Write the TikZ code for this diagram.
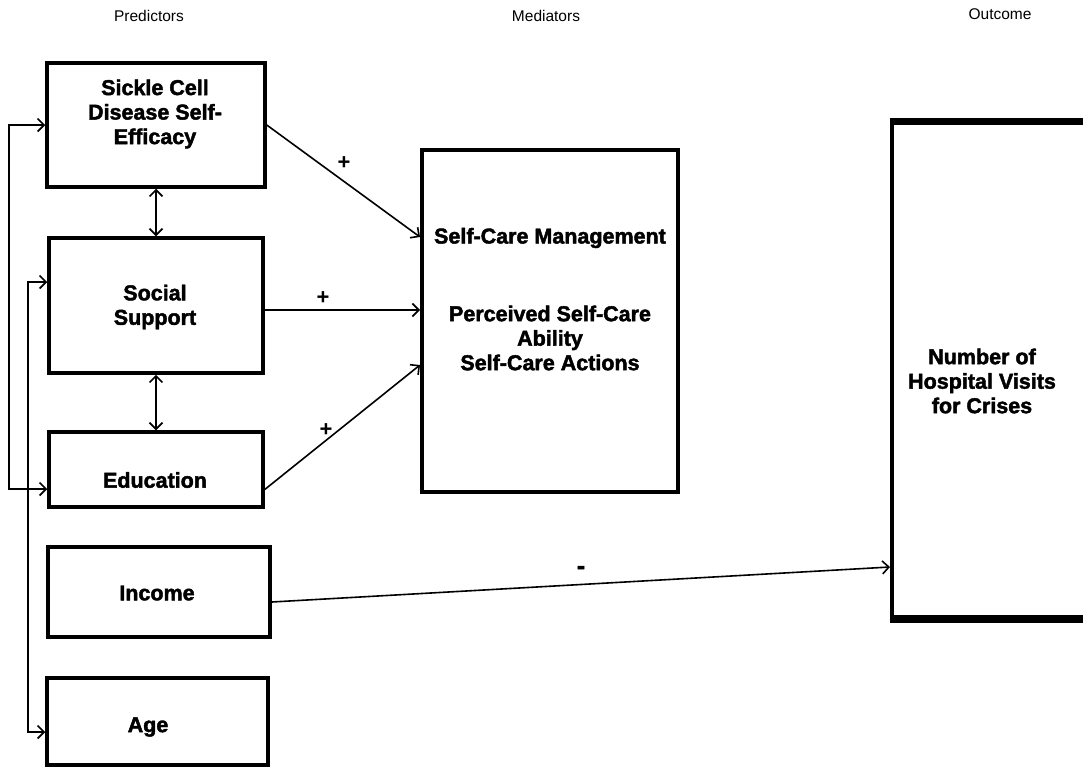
\documentclass[tikz,border=0pt]{standalone}
\usepackage{fontspec}
\setmainfont{Liberation Sans}
\newfontfamily\heavyfont[FakeBold=2]{Liberation Sans Bold}
\usetikzlibrary{arrows.meta,calc}
\begin{document}
\begin{tikzpicture}[x=1pt,y=-1pt,
  box/.style={draw, line width=3.5pt, inner sep=0pt, fill=none},
  btxt/.style={font=\fontsize{21.5}{24.5}\heavyfont, align=center, inner sep=0pt},
  head/.style={font=\fontsize{15.5}{18}\selectfont, inner sep=0pt},
  sign/.style={font=\fontsize{22}{26}\bfseries, inner sep=0pt},
  arr/.style={line width=1.6pt, -{Straight Barb[length=6.5pt,width=13pt]}},
  darr/.style={line width=1.6pt, {Straight Barb[length=6.5pt,width=13pt]}-{Straight Barb[length=6.5pt,width=13pt]}}]
\useasboundingbox (0,0) rectangle (1083,768);
% headers
\node[head] (hp) at (149,16) {Predictors};
\node[head] (hm) at (546,16) {Mediators};
\node[head] (ho) at (1000,14) {Outcome};
% predictor boxes
\node[box, minimum width=218pt, minimum height=124pt] (scd) at (156,125) {};
\node[box, minimum width=214pt, minimum height=135pt] (soc) at (156,305.5) {};
\node[box, minimum width=214pt, minimum height=75pt] (edu) at (156,469.5) {};
\node[box, minimum width=222pt, minimum height=90pt] (inc) at (159,592) {};
\node[box, minimum width=221pt, minimum height=87pt] (age) at (157.5,721.5) {};
% mediator and outcome boxes
\node[box, line width=4pt, minimum width=256pt, minimum height=342pt] (med) at (550,321) {};
\node[box, line width=4pt, minimum width=220pt, minimum height=494pt] (out) at (1002,370) {};
\draw[line width=7pt] (out.north west) -- (out.north east);
\draw[line width=7pt] (out.south west) -- (out.south east);
% texts
\node[btxt] (tscd) at (155,114) {Sickle Cell\\Disease Self-\\Efficacy};
\node[btxt] (tsoc) at (155,307) {Social\\Support};
\node[btxt] (tedu) at (155,480) {Education};
\node[btxt] (tinc) at (157,593) {Income};
\node[btxt] (tage) at (148,727) {Age};
\node[btxt] (tmed1) at (550,238) {Self-Care Management};
\node[btxt] (tmed2) at (550,338) {Perceived Self-Care\\Ability\\Self-Care Actions};
\node[btxt] (tout) at (982,381) {Number of\\Hospital Visits\\for Crises};
% left feedback lines
\coordinate (l1) at (9,125);
\coordinate (l2) at (9,489);
\coordinate (m1) at (28,282);
\coordinate (m2) at (28,732);
\draw[darr] (scd.west |- l1) -- (l1) -- (l2) -- (edu.west |- l2);
\draw[darr] (soc.west |- m1) -- (m1) -- (m2) -- (age.west |- m2);
% vertical double arrows
\draw[darr] (scd.south) -- (soc.north);
\draw[darr] (soc.south) -- (edu.north);
% paths to mediator
\coordinate (e1) at (420,237);
\coordinate (e2) at (420,310);
\coordinate (e3) at (420,365);
\draw[arr] (scd.east) -- (e1);
\draw[arr] (soc.east |- e2) -- (e2);
\draw[arr] ([yshift=-20pt]edu.east) -- (e3);
\draw[arr] ([yshift=-10pt]inc.east) -- (out.west |- 0,567);
% signs
\node[sign] (p1) at (344,163) {+};
\node[sign] (p2) at (323,298) {+};
\node[sign] (p3) at (326,430) {+};
\node[sign, font=\fontsize{24}{26}\heavyfont] (mn) at (581,570) {-};
\end{tikzpicture}
\end{document}
